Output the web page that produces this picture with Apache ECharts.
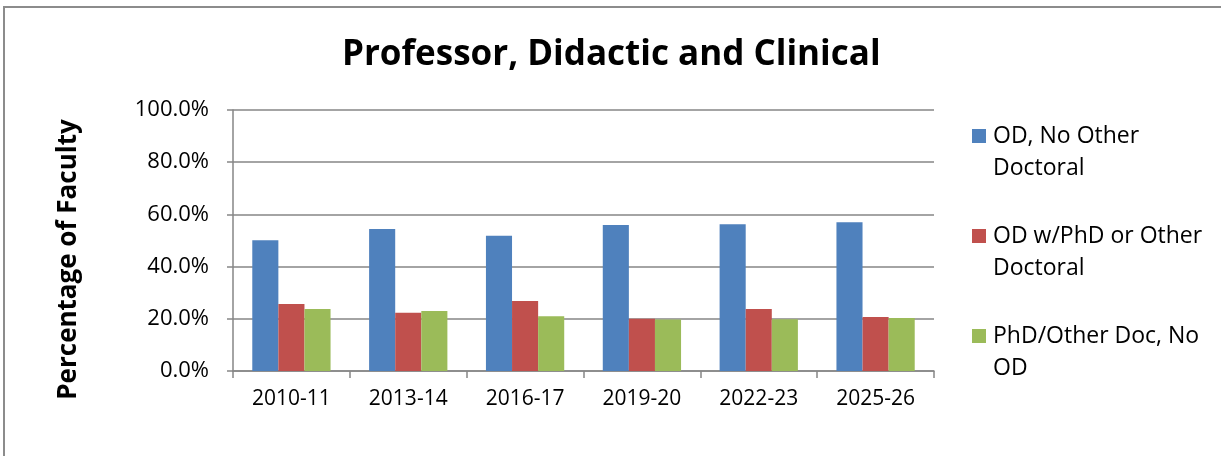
<!DOCTYPE html>
<html>
<head>
<meta charset="utf-8">
<script src="https://cdn.jsdelivr.net/npm/echarts@6/dist/echarts.min.js"></script>
<style>
  html, body { margin: 0; padding: 0; background: #fff; }
  #chart { width: 1221px; height: 456px; }
</style>
</head>
<body>
<div id="chart"></div>
<script>
// 学年
const years = ['2010-11', '2013-14', '2016-17', '2019-20', '2022-23', '2025-26']
// 各系列（百分比）
const seriesNames = ['OD, No Other Doctoral', 'OD w/PhD or Other Doctoral', 'PhD/Other Doc, No OD']
const odOnly = [50.1, 54.4, 51.8, 55.9, 56.2, 57.0]
const odPhd = [25.7, 22.3, 26.8, 20.0, 23.8, 20.7]
const phdOnly = [23.8, 23.0, 21.0, 19.7, 19.8, 20.3]
// 图例换行
const legendLines = {
  'OD, No Other Doctoral': ['OD, No Other', 'Doctoral'],
  'OD w/PhD or Other Doctoral': ['OD w/PhD or Other', 'Doctoral'],
  'PhD/Other Doc, No OD': ['PhD/Other Doc, No', 'OD']
}

const colors = ['#4F81BD', '#C0504D', '#9BBB59']
const font = 'Open Sans'

var myChart = echarts.init(document.getElementById('chart'))

var option = {
  animation: false,
  color: colors,
  title: {
    text: 'Professor, Didactic and Clinical',
    left: 337,
    top: 33,
    textStyle: { fontFamily: font, fontSize: 35, fontWeight: 'bold', color: '#000' }
  },
  graphic: [{
    type: 'rect',
    shape: { x: 4, y: 7, width: 1400, height: 700 },
    style: { fill: 'none', stroke: '#8c8c8c', lineWidth: 2 },
    silent: true
  }],
  legend: {
    orient: 'vertical',
    left: 972,
    top: 88,
    padding: 0,
    itemGap: 4,
    itemWidth: 14,
    itemHeight: 14,
    icon: 'rect',
    data: seriesNames,
    formatter: function (name) {
      return '\n' + legendLines[name].join('\n')
    },
    textStyle: { fontFamily: font, fontSize: 23, color: '#000', lineHeight: 32, padding: [0, 0, 0, 2] }
  },
  grid: { left: 233, right: 287, top: 110, bottom: 85, containLabel: false },
  xAxis: {
    type: 'category',
    data: years,
    axisLine: { show: true, lineStyle: { color: '#868686', width: 1.5 } },
    axisTick: { show: true, length: 7, lineStyle: { color: '#868686', width: 1.5 } },
    axisLabel: { fontFamily: font, fontSize: 21, color: '#000', margin: 18 }
  },
  yAxis: {
    type: 'value',
    min: 0,
    max: 100,
    interval: 20,
    name: 'Percentage of Faculty',
    nameLocation: 'middle',
    nameGap: 151,
    nameTextStyle: {
      fontFamily: font, fontSize: 26, fontWeight: 'bold', color: '#000',
      padding: [0, 38, 0, 0]
    },
    axisLine: { show: true, lineStyle: { color: '#868686', width: 1.5 } },
    axisTick: { show: true, length: 6, lineStyle: { color: '#868686', width: 1.5 } },
    axisLabel: {
      fontFamily: font, fontSize: 22, color: '#000', margin: 24,
      formatter: function (v) { return v.toFixed(1) + '%' }
    },
    splitLine: { show: true, lineStyle: { color: '#868686', width: 1.5 } }
  },
  series: [
    { name: seriesNames[0], type: 'bar', data: odOnly, barGap: 0, barCategoryGap: '33%' },
    { name: seriesNames[1], type: 'bar', data: odPhd, barGap: 0, barCategoryGap: '33%' },
    { name: seriesNames[2], type: 'bar', data: phdOnly, barGap: 0, barCategoryGap: '33%' }
  ]
}

myChart.setOption(option)
</script>
</body>
</html>
